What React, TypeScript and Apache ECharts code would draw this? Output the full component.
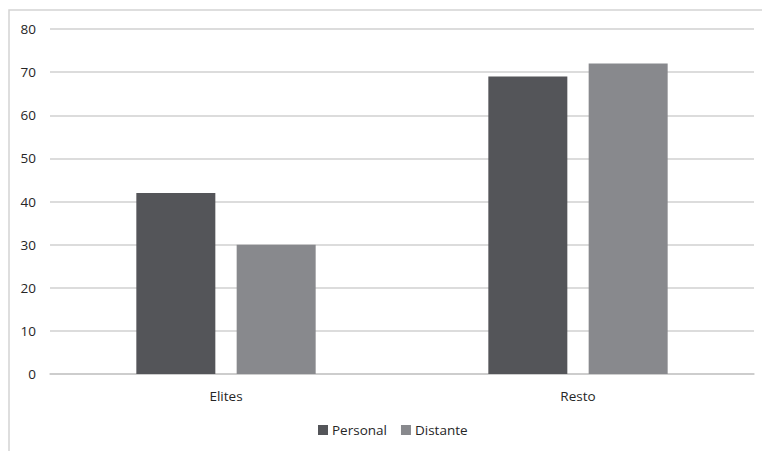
import React, { useEffect, useRef } from "react";
import * as echarts from "echarts";

const categories = ["Elites", "Resto"];
const personal = [42, 69];
const distante = [30, 72];
const seriesNames = ["Personal", "Distante"];

export default function App() {
  const ref = useRef<HTMLDivElement>(null);
  useEffect(() => {
    document.body.style.margin = "0";
    const chart = echarts.init(ref.current!, null, { renderer: "svg" });
    const font = "'Open Sans', 'Liberation Sans', sans-serif";
    const txt = "#262626";
    chart.setOption({
      animation: false,
      backgroundColor: "#ffffff",
      graphic: [
        {
          type: "rect",
          shape: { x: 9, y: 10, width: 800, height: 500 },
          style: { fill: "none", stroke: "#d3d3d3", lineWidth: 1.5 },
          silent: true,
        },
      ],
      legend: {
        data: seriesNames,
        top: 418,
        left: 313,
        itemWidth: 10,
        itemHeight: 10,
        itemGap: 14,
        icon: "rect",
        textStyle: { fontFamily: font, fontSize: 13.5, color: txt, padding: [0, 0, 0, -1] },
      },
      grid: { left: 50, right: 8, top: 29, bottom: 77 },
      xAxis: {
        type: "category",
        data: categories,
        axisLine: { show: true, lineStyle: { color: "#c8c8c8", width: 1.5 } },
        axisTick: { show: false },
        axisLabel: { fontFamily: font, fontSize: 13.5, color: txt, margin: 15 },
      },
      yAxis: {
        type: "value",
        min: 0,
        max: 80,
        interval: 10,
        axisLine: { show: false },
        axisTick: { show: false },
        splitLine: { lineStyle: { color: "#d0d0d0", width: 1.5 } },
        axisLabel: { fontFamily: font, fontSize: 13.5, color: txt, margin: 14 },
      },
      series: [
        {
          name: seriesNames[0],
          type: "bar",
          data: personal,
          barWidth: 79,
          barGap: "27%",
          itemStyle: { color: "#545559" },
        },
        {
          name: seriesNames[1],
          type: "bar",
          data: distante,
          barWidth: 79,
          itemStyle: { color: "#88898d" },
        },
      ],
    });
    return () => chart.dispose();
  }, []);
  return (
    <div
      ref={ref}
      style={{ position: "absolute", left: 0, top: 0, width: 762, height: 451 }}
    />
  );
}
